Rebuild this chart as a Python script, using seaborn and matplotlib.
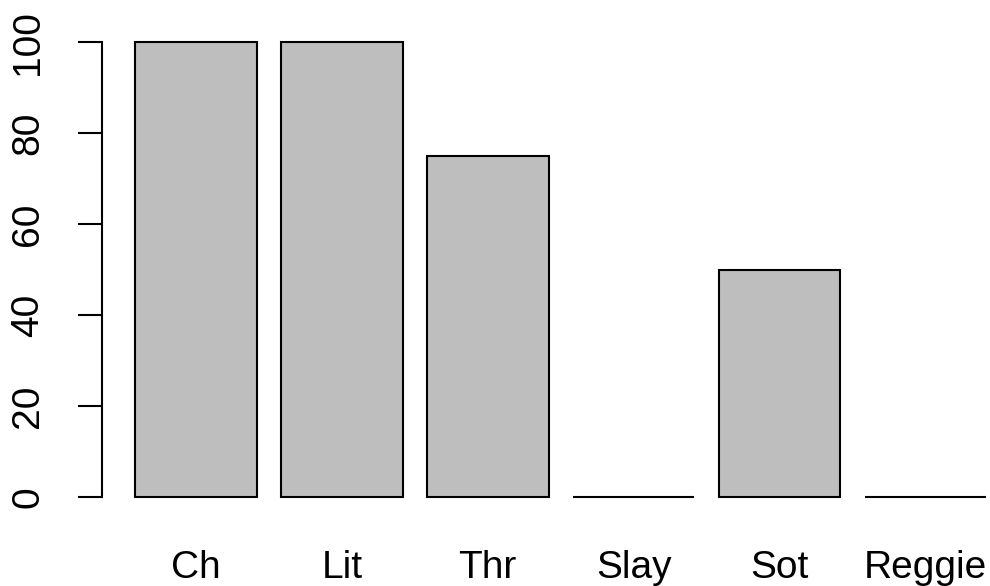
import matplotlib
matplotlib.use("Agg")
import matplotlib.pyplot as plt
import seaborn as sns

# --- data ---
names = ["Ch", "Lit", "Thr", "Slay", "Sot", "Reggie"]
values = [100, 100, 75, 0, 50, 0]
yticks = [0, 20, 40, 60, 80, 100]

sns.set_theme(style="white")
plt.rcParams["font.family"] = ["Liberation Sans", "DejaVu Sans"]

fig = plt.figure(figsize=(9.9, 5.86), dpi=100)
ax = fig.add_axes([102 / 990, 1 - 515 / 586, 888 / 990, 491 / 586])

sns.barplot(x=names, y=values, color="#bebebe", saturation=1,
            edgecolor="black", linewidth=1.5, width=1 / 1.2, ax=ax)

ax.set_xlim(-0.644, 5.442)
ax.set_ylim(-4, 104)
ax.set_xlabel("")
ax.set_ylabel("")

for side in ["top", "right", "bottom"]:
    ax.spines[side].set_visible(False)
ax.spines["left"].set_bounds(0, 100)
ax.spines["left"].set_color("black")
ax.spines["left"].set_linewidth(1.5)

ax.set_yticks(yticks)
ax.set_yticklabels([str(t) for t in yticks], rotation=90, va="center")
ax.tick_params(axis="y", left=True, length=17, width=1.5, color="black",
               pad=23, labelsize=28, labelcolor="black")
# names sit just above the bottom edge, as in the reference
ax.tick_params(axis="x", bottom=False, length=0, pad=25, labelsize=28,
               labelcolor="black")

fig.savefig("out.png", dpi=100)
